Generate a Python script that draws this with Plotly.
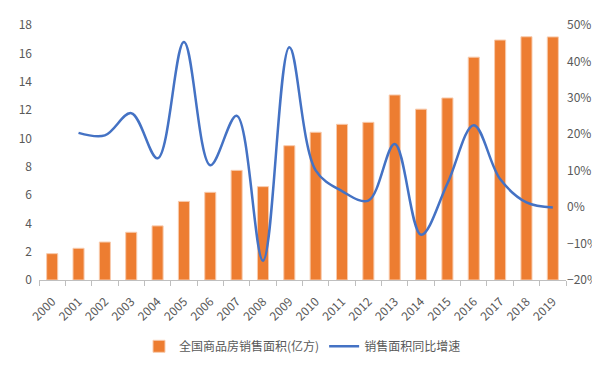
import plotly.graph_objects as go

years = [str(y) for y in range(2000, 2020)]
area = [1.86, 2.24, 2.68, 3.37, 3.82, 5.55, 6.19, 7.74, 6.59, 9.48,
        10.43, 10.99, 11.13, 13.06, 12.06, 12.85, 15.73, 16.94, 17.17, 17.16]
growth_years = years[1:]
growth = [20.4, 19.7, 25.8, 13.4, 45.3, 11.5, 25.1, -14.7, 43.9, 10.1,
          4.4, 1.8, 17.3, -7.6, 6.5, 22.5, 7.7, 1.3, -0.1]

font_family = "Noto Sans CJK SC, Noto Sans, sans-serif"
grey = "#595959"

fig = go.Figure()
fig.add_trace(go.Bar(
    x=years, y=area, name="全国商品房销售面积(亿方)",
    marker=dict(color="#ED7D31", line=dict(color="#F8CBAD", width=1)),
    width=0.42,
))
fig.add_trace(go.Scatter(
    x=growth_years, y=growth, name="销售面积同比增速", yaxis="y2",
    mode="lines", line=dict(color="#4472C4", width=2.5, shape="spline", smoothing=1.0),
))

fig.update_layout(
    width=600, height=365,
    margin=dict(l=31, r=42, t=17, b=83),
    plot_bgcolor="white", paper_bgcolor="white",
    font=dict(family=font_family, size=12, color=grey),
    showlegend=True,
    legend=dict(orientation="h", x=0.5, xanchor="center", y=-0.26, yanchor="middle",
                font=dict(size=12, color=grey)),
    xaxis=dict(type="category", tickangle=-45, showline=True, linecolor="#BFBFBF",
               ticks="outside", tickson="boundaries", ticklen=5, tickcolor="#BFBFBF",
               ticklabelstandoff=9, automargin=False,
               showgrid=False, tickfont=dict(size=12, color=grey)),
    yaxis=dict(range=[0, 18], dtick=2, showgrid=False, zeroline=False, showline=False,
               automargin=False, ticklabelstandoff=6, tickfont=dict(size=12, color=grey)),
    yaxis2=dict(range=[-20, 50], dtick=10, overlaying="y", side="right", showgrid=False,
                zeroline=False, showline=False, ticksuffix="%", automargin=False,
                tickfont=dict(size=12, color=grey)),
)

fig.write_html("out.html")
